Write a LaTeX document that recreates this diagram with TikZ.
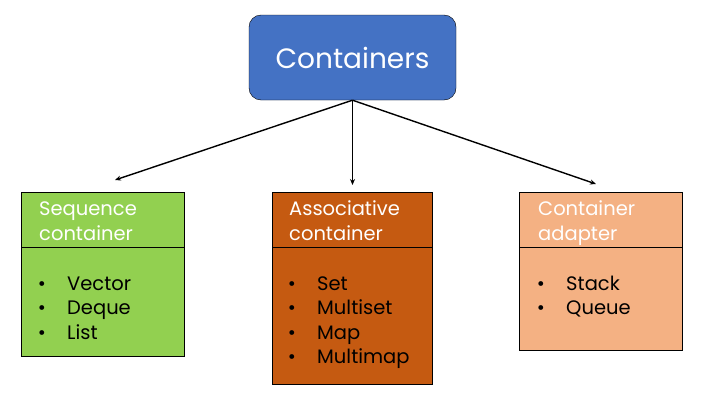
\documentclass[tikz,border=0pt]{standalone}
\usepackage{fontspec}
\setmainfont{Poppins}
\usetikzlibrary{arrows.meta,positioning}

\definecolor{contblue}{HTML}{4472C4}
\definecolor{seqgreen}{HTML}{92D050}
\definecolor{assorange}{HTML}{C55A11}
\definecolor{adapeach}{HTML}{F4B183}

\begin{document}
\begin{tikzpicture}[x=1pt, y=-1pt,
    topbox/.style={draw, rounded corners=12pt, fill=contblue, text=white,
      minimum width=207pt, minimum height=85pt, font=\fontsize{28}{32}\selectfont},
    headbox/.style={draw, anchor=north west, minimum height=55pt},
    headtext/.style={anchor=north west, inner sep=0pt, align=left, text=white,
      font=\fontsize{19.5}{24.5}\selectfont},
    bodybox/.style={draw, anchor=north},
    dot/.style={anchor=base, font=\fontsize{19.5}{25}\selectfont},
    itemtext/.style={anchor=base west, inner sep=0pt, font=\fontsize{19.5}{25}\selectfont},
    link/.style={-{Stealth[length=6pt,width=5pt]}, line width=1.4pt}]

    \useasboundingbox (0,0) rectangle (707,407);

    % Root
    \node[topbox] (cont) at (352.5,57.5) {Containers};

    % Sequence container
    \node[headbox, fill=seqgreen, minimum width=163pt] (seqhead) at (21,192) {};
    \node[bodybox, fill=seqgreen, minimum width=163pt, minimum height=109pt] (seqbody) at (seqhead.south) {};
    \draw[line width=1.6pt] (seqhead.south west) -- (seqhead.south east);
    \node[headtext] (seqtitle) at (39,198.5) {\strut Sequence\\container};
    \foreach \name [count=\i] in {Vector,Deque,List} {
      \node[dot] (seqdot\i) at (42,290+24.5*\i-24.5) {•};
      \node[itemtext] (seqitem\i) at (67,290+24.5*\i-24.5) {\name};
    }

    % Associative container
    \node[headbox, fill=assorange, minimum width=160pt] (asshead) at (272,192) {};
    \node[bodybox, fill=assorange, minimum width=160pt, minimum height=137pt] (assbody) at (asshead.south) {};
    \draw[line width=1.6pt] (asshead.south west) -- (asshead.south east);
    \node[headtext] (asstitle) at (289,198.5) {\strut Associative\\container};
    \foreach \name [count=\i] in {Set,Multiset,Map,Multimap} {
      \node[dot] (assdot\i) at (292,290+24.5*\i-24.5) {•};
      \node[itemtext] (assitem\i) at (317,290+24.5*\i-24.5) {\name};
    }

    % Container adapter
    \node[headbox, fill=adapeach, minimum width=163pt] (adahead) at (519,192) {};
    \node[bodybox, fill=adapeach, minimum width=163pt, minimum height=103pt] (adabody) at (adahead.south) {};
    \draw[line width=1.6pt] (adahead.south west) -- (adahead.south east);
    \node[headtext] (adatitle) at (538,198.5) {\strut Container\\adapter};
    \foreach \name [count=\i] in {Stack,Queue} {
      \node[dot] (adadot\i) at (541,290+24.5*\i-24.5) {•};
      \node[itemtext] (adaitem\i) at (566,290+24.5*\i-24.5) {\name};
    }

    % Arrows
    \coordinate (seqtip) at (115,180);
    \coordinate (asstip) at (352.5,185);
    \coordinate (adatip) at (596,184);
    \draw[link] (cont.south) -- (seqtip);
    \draw[link] (cont.south) -- (asstip);
    \draw[link] (cont.south) -- (adatip);

\end{tikzpicture}
\end{document}
